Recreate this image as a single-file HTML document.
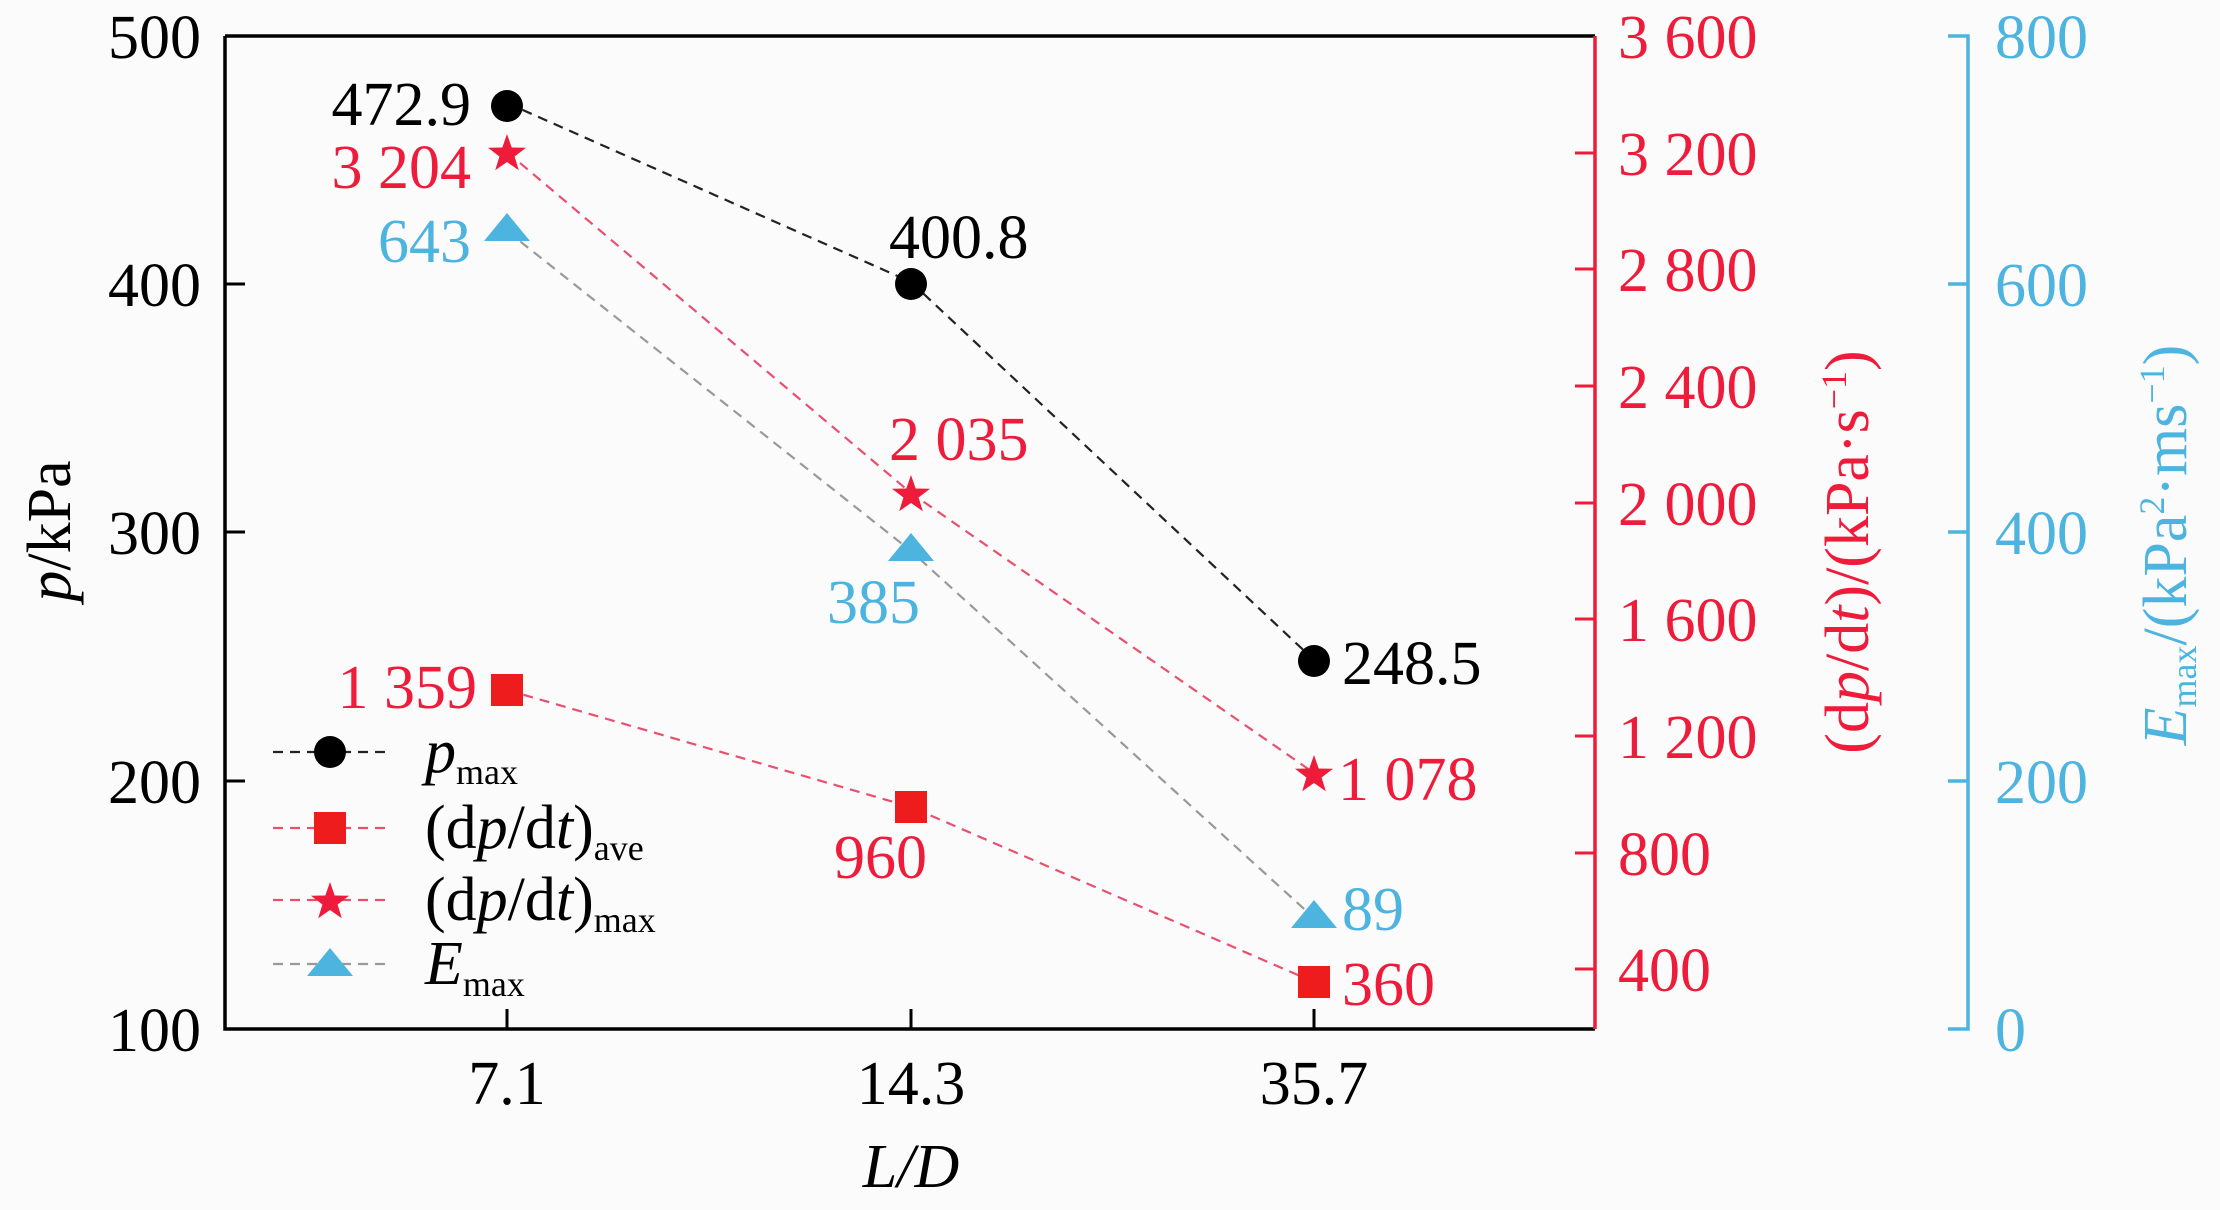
<!DOCTYPE html>
<html><head><meta charset="utf-8"><style>
html,body{margin:0;padding:0;background:#fbfbfb;}
svg{display:block;font-family:"Liberation Serif",serif;}
</style></head><body>
<svg width="2220" height="1210" viewBox="0 0 2220 1210" xmlns="http://www.w3.org/2000/svg">
<rect width="2220" height="1210" fill="#fbfbfb"/>
<defs>
<path id="star" d="M0,-20 L4.7,-6.5 L19,-6.2 L7.6,2.5 L11.8,16.2 L0,8 L-11.8,16.2 L-7.6,2.5 L-19,-6.2 L-4.7,-6.5 Z"/>
</defs>
<!-- series lines -->
<g fill="none" stroke-width="2.2" stroke-dasharray="10,7">
<polyline points="507,103 911,282 1314,660" stroke="#222"/>
<polyline points="507,690 911,807 1314,982" stroke="#e8506e"/>
<polyline points="507,152 911,493 1314,773" stroke="#e8506e"/>
<polyline points="507,231 911,551 1314,918" stroke="#999"/>
</g>
<!-- frame -->
<path d="M225 36 H1595 M225 36 V1029 H1595" stroke="#000" stroke-width="3.5" fill="none"/>
<line x1="1595" y1="36" x2="1595" y2="1029" stroke="#ee1c3a" stroke-width="3.5"/>
<g stroke="#000" stroke-width="3">
<line x1="225" y1="284" x2="245" y2="284"/><line x1="225" y1="532" x2="245" y2="532"/><line x1="225" y1="781" x2="245" y2="781"/>
<line x1="507" y1="1029" x2="507" y2="1009"/><line x1="911" y1="1029" x2="911" y2="1009"/><line x1="1314" y1="1029" x2="1314" y2="1009"/>
</g>
<g font-size="62" text-anchor="end" fill="#000">
<text x="201" y="58">500</text><text x="201" y="306">400</text><text x="201" y="554">300</text><text x="201" y="803">200</text><text x="201" y="1051">100</text>
</g>
<g font-size="62" text-anchor="middle" fill="#000">
<text x="507" y="1104">7.1</text><text x="911" y="1104">14.3</text><text x="1314" y="1104">35.7</text>
<text x="911" y="1187" font-style="italic">L/D</text>
</g>
<text transform="translate(70,531) rotate(-90)" font-size="62" text-anchor="middle"><tspan font-style="italic">p</tspan>/kPa</text>
<!-- red axis -->
<g stroke="#ee1c3a" stroke-width="3">
<line x1="1575" y1="153" x2="1595" y2="153"/><line x1="1575" y1="269" x2="1595" y2="269"/><line x1="1575" y1="386" x2="1595" y2="386"/><line x1="1575" y1="503" x2="1595" y2="503"/><line x1="1575" y1="619" x2="1595" y2="619"/><line x1="1575" y1="736" x2="1595" y2="736"/><line x1="1575" y1="853" x2="1595" y2="853"/><line x1="1575" y1="969" x2="1595" y2="969"/>
</g>
<g font-size="62" fill="#ee1c3a">
<text x="1618" y="58">3 600</text><text x="1618" y="175">3 200</text><text x="1618" y="291">2 800</text><text x="1618" y="408">2 400</text><text x="1618" y="525">2 000</text><text x="1618" y="641">1 600</text><text x="1618" y="758">1 200</text><text x="1618" y="875">800</text><text x="1618" y="991">400</text>
</g>
<text transform="translate(1868,552) rotate(-90)" font-size="62" text-anchor="middle" fill="#ee1c3a">(d<tspan font-style="italic">p</tspan>/d<tspan font-style="italic">t</tspan>)/(kPa·s<tspan dy="-22" font-size="36">−1</tspan><tspan dy="22">)</tspan></text>
<!-- cyan axis -->
<g stroke="#4db4e0" stroke-width="3.5" fill="none">
<path d="M1948 36 H1968 V1029 H1948"/>
<line x1="1948" y1="284" x2="1968" y2="284"/><line x1="1948" y1="532" x2="1968" y2="532"/><line x1="1948" y1="781" x2="1968" y2="781"/>
</g>
<g font-size="62" fill="#4db4e0">
<text x="1995" y="58">800</text><text x="1995" y="306">600</text><text x="1995" y="554">400</text><text x="1995" y="803">200</text><text x="1995" y="1051">0</text>
</g>
<text transform="translate(2186,545) rotate(-90)" font-size="62" text-anchor="middle" fill="#4db4e0"><tspan font-style="italic">E</tspan><tspan font-size="36" dy="10">max</tspan><tspan dy="-10">/(kPa</tspan><tspan dy="-22" font-size="36">2</tspan><tspan dy="22">·ms</tspan><tspan dy="-22" font-size="36">−1</tspan><tspan dy="22">)</tspan></text>
<!-- markers -->
<g fill="#000"><circle cx="507" cy="106" r="16"/><circle cx="911" cy="284" r="16"/><circle cx="1314" cy="661" r="16"/></g>
<g fill="#ee1c1c"><rect x="491" y="674" width="32" height="32"/><rect x="895" y="791" width="32" height="32"/><rect x="1298" y="966" width="32" height="32"/></g>
<g fill="#ee1c3a"><use href="#star" x="507" y="154"/><use href="#star" x="911" y="495"/><use href="#star" x="1314" y="775"/></g>
<g fill="#4db4e0"><path d="M507 213 L530 241 L484 241Z"/><path d="M911 533 L934 561 L888 561Z"/><path d="M1314 900 L1337 928 L1291 928Z"/></g>
<!-- data labels -->
<g font-size="62">
<text x="471" y="125" text-anchor="end" fill="#000">472.9</text>
<text x="471" y="188" text-anchor="end" fill="#ee1c3a">3 204</text>
<text x="471" y="262" text-anchor="end" fill="#4db4e0">643</text>
<text x="889" y="258" fill="#000">400.8</text>
<text x="889" y="460" fill="#ee1c3a">2 035</text>
<text x="920" y="623" text-anchor="end" fill="#4db4e0">385</text>
<text x="1342" y="684" fill="#000">248.5</text>
<text x="1338" y="800" fill="#ee1c3a">1 078</text>
<text x="1342" y="930" fill="#4db4e0">89</text>
<text x="1342" y="1005" fill="#ee1c3a">360</text>
<text x="477" y="708" text-anchor="end" fill="#ee1c3a">1 359</text>
<text x="927" y="878" text-anchor="end" fill="#ee1c3a">960</text>
</g>
<!-- legend -->
<g fill="none" stroke-width="2.2" stroke-dasharray="10,7">
<line x1="273" y1="752" x2="389" y2="752" stroke="#222"/>
<line x1="273" y1="828" x2="389" y2="828" stroke="#e8506e"/>
<line x1="273" y1="900" x2="389" y2="900" stroke="#e8506e"/>
<line x1="273" y1="964" x2="389" y2="964" stroke="#999"/>
</g>
<circle cx="330" cy="752" r="16" fill="#000"/>
<rect x="314" y="812" width="32" height="32" fill="#ee1c1c"/>
<use href="#star" x="330" y="902" fill="#ee1c3a"/>
<path d="M330 948 L353 976 L307 976Z" fill="#4db4e0"/>
<g font-size="62" fill="#000">
<text x="425" y="772"><tspan font-style="italic">p</tspan><tspan font-size="36" dy="12">max</tspan></text>
<text x="425" y="848">(d<tspan font-style="italic">p</tspan>/d<tspan font-style="italic">t</tspan>)<tspan font-size="36" dy="12">ave</tspan></text>
<text x="425" y="920">(d<tspan font-style="italic">p</tspan>/d<tspan font-style="italic">t</tspan>)<tspan font-size="36" dy="12">max</tspan></text>
<text x="425" y="984"><tspan font-style="italic">E</tspan><tspan font-size="36" dy="12">max</tspan></text>
</g>
</svg>
</body></html>
